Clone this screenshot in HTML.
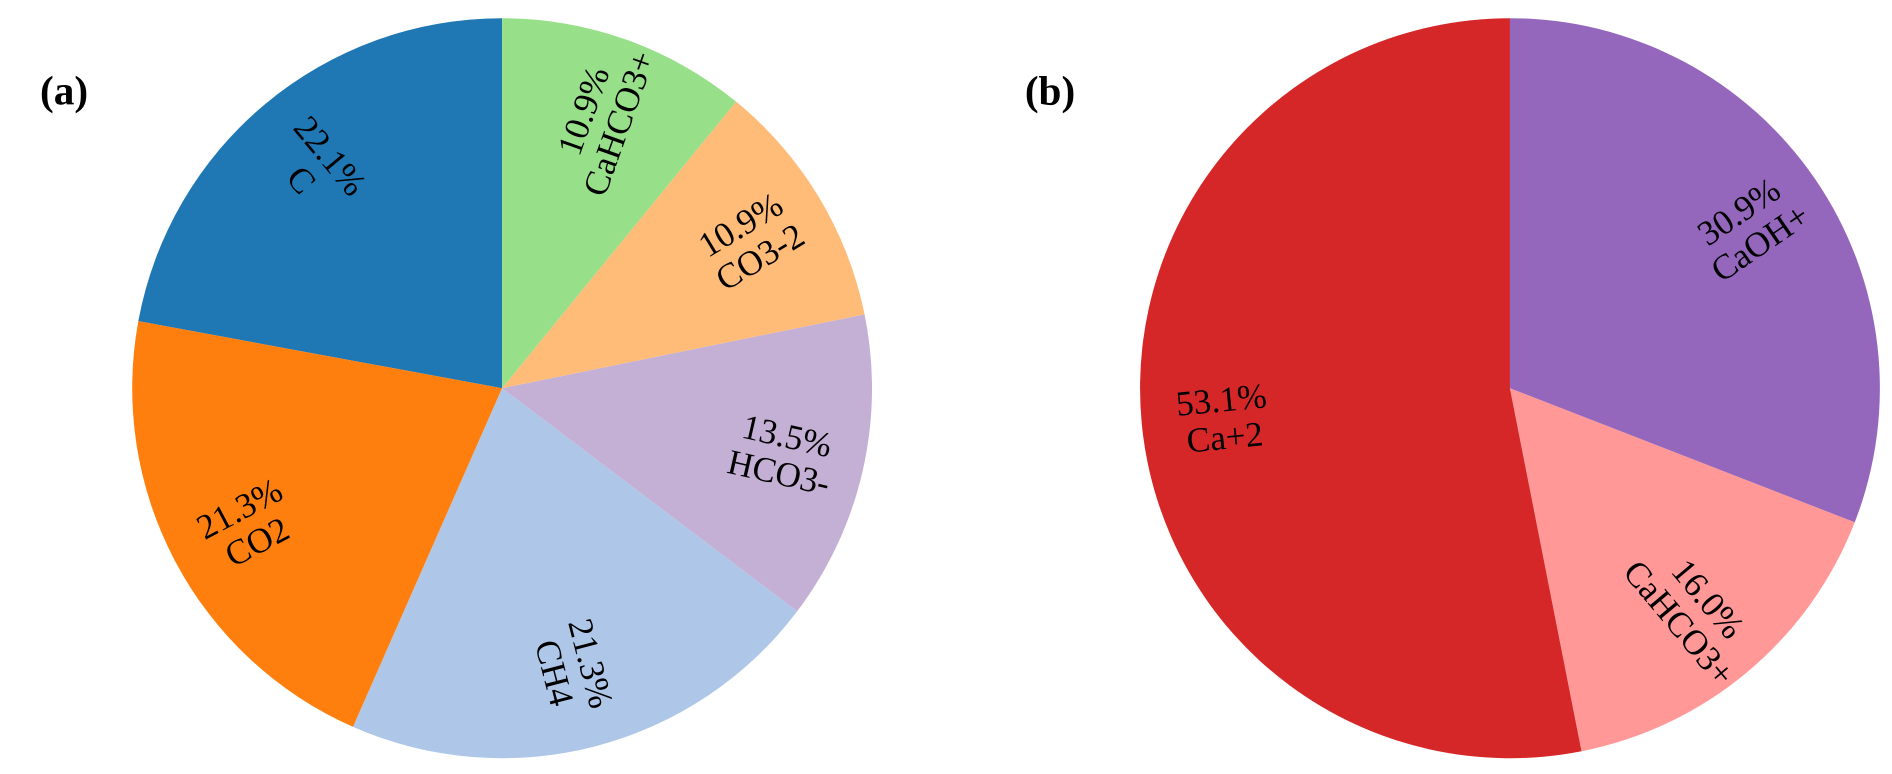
<!DOCTYPE html>
<html><head><meta charset="utf-8"><style>
html,body{margin:0;padding:0;background:#fff;}
svg{display:block;}
text{font-family:"Liberation Serif",serif;}
</style></head><body>
<svg id="chart" width="1892" height="774" viewBox="0 0 1560 638" preserveAspectRatio="none">
<text x="33" y="86" font-size="34" font-weight="bold">(a)</text>
<text x="845" y="86" font-size="34" font-weight="bold">(b)</text>
</svg>
<script>
const labelsA = ["C","CO2","CH4","HCO3-","CO3-2","CaHCO3+"];
const valuesA = [22.1,21.3,21.3,13.5,10.9,10.9];
const colorsA = ["#1f77b4","#ff7f0e","#aec7e8","#c5b0d5","#ffbb78","#98df8a"];
const labelsB = ["Ca+2","CaHCO3+","CaOH+"];
const valuesB = [53.1,16.0,30.9];
const colorsB = ["#d62728","#ff9896","#9467bd"];

const NS="http://www.w3.org/2000/svg";
const svg=document.getElementById('chart');
function pie(cx,cy,r,labels,values,colors,name){
  const g=document.createElementNS(NS,'g');
  
  
  svg.appendChild(g);
  const total=values.reduce((a,b)=>a+b,0);
  let a0=90;
  const pt=(deg,rr)=>[cx+rr*Math.cos(deg*Math.PI/180), cy-rr*Math.sin(deg*Math.PI/180)];
  values.forEach((v,i)=>{
    const sweep=v/total*360, a1=a0+sweep;
    const [x0,y0]=pt(a0,r),[x1,y1]=pt(a1,r);
    const p=document.createElementNS(NS,'path');
    p.setAttribute('d',`M${cx},${cy}L${x0},${y0}A${r},${r} 0 ${sweep>180?1:0} 0 ${x1},${y1}Z`);
    p.setAttribute('fill',colors[i]);
    
    
    g.appendChild(p);
    const mid=(a0+a1)/2;
    const [lx,ly]=pt(mid,r*0.78);
    let m=((mid%360)+360)%360;
    let rot=(m>90&&m<270)?m-180:m;
    const t=document.createElementNS(NS,'text');
    t.setAttribute('transform',`translate(${lx},${ly}) rotate(${-rot})`);
    t.setAttribute('text-anchor','middle');
    t.setAttribute('font-size','29');
    t.setAttribute('fill','#000');
    
    
    const s1=document.createElementNS(NS,'tspan');
    s1.setAttribute('x','0');s1.setAttribute('y','-4');
    s1.textContent=v.toFixed(1)+'%';
    const s2=document.createElementNS(NS,'tspan');
    s2.setAttribute('x','0');s2.setAttribute('y','27');
    s2.textContent=labels[i];
    t.appendChild(s1);t.appendChild(s2);
    g.appendChild(t);
    a0=a1;
  });
}
pie(414,320,305,labelsA,valuesA,colorsA,'pie-a');
pie(1245,320,305,labelsB,valuesB,colorsB,'pie-b');
</script>
</body></html>
